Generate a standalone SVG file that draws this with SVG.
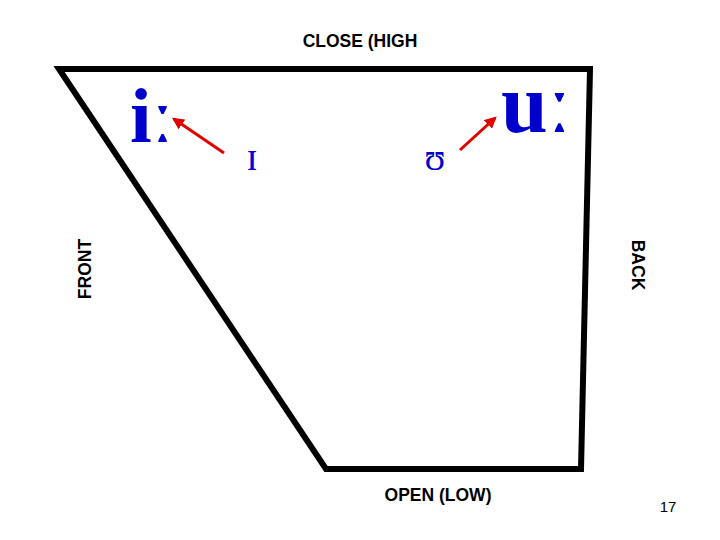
<svg xmlns="http://www.w3.org/2000/svg" width="720" height="540" viewBox="0 0 720 540">
<style>
.lbl{font-family:"Liberation Sans",Arial,sans-serif;font-weight:bold;font-size:17.5px;fill:#000}
.v{font-family:"Liberation Serif","Times New Roman",serif;fill:#0000cc}
.arr{stroke:#e00000;stroke-width:3;fill:none;marker-end:url(#ah)}
</style>
<defs>
<marker id="ah" viewBox="0 0 10 10" refX="8" refY="5" markerWidth="4" markerHeight="4" orient="auto" markerUnits="strokeWidth">
<path d="M0,0 L10,5 L0,10 z" fill="#e00000"/>
</marker>
</defs>
<rect width="720" height="540" fill="#fff"/>
<g id="chart">
<path d="M59,69 L590,69 L581,469 L326,469 Z" fill="none" stroke="#000" stroke-width="6" stroke-linejoin="miter"/>
</g>
<g id="labels">
<text class="lbl" x="360" y="47" text-anchor="middle">CLOSE (HIGH</text>
<text class="lbl" x="438" y="501" text-anchor="middle">OPEN (LOW)</text>
<text class="lbl" transform="translate(91,269) rotate(-90)" text-anchor="middle">FRONT</text>
<text class="lbl" transform="translate(632,265) rotate(90)" text-anchor="middle">BACK</text>
<text x="668" y="512" text-anchor="middle" font-family="Liberation Sans,Arial,sans-serif" font-size="15">17</text>
</g>
<g id="vowel-i-long"><text class="v" x="130" y="142" font-size="78" font-weight="bold">iː</text></g>
<g id="vowel-I"><text class="v" x="252" y="170" font-size="40" text-anchor="middle">ɪ</text></g>
<g id="vowel-U"><text class="v" x="435" y="170" font-size="38" text-anchor="middle">ʊ</text></g>
<g id="vowel-u-long"><text class="v" x="501" y="132" font-size="84" font-weight="bold">uː</text></g>
<g id="connectors">
<line class="arr" x1="224" y1="153" x2="174" y2="119"/>
<line class="arr" x1="460" y1="150" x2="495" y2="118"/>
</g>
</svg>
